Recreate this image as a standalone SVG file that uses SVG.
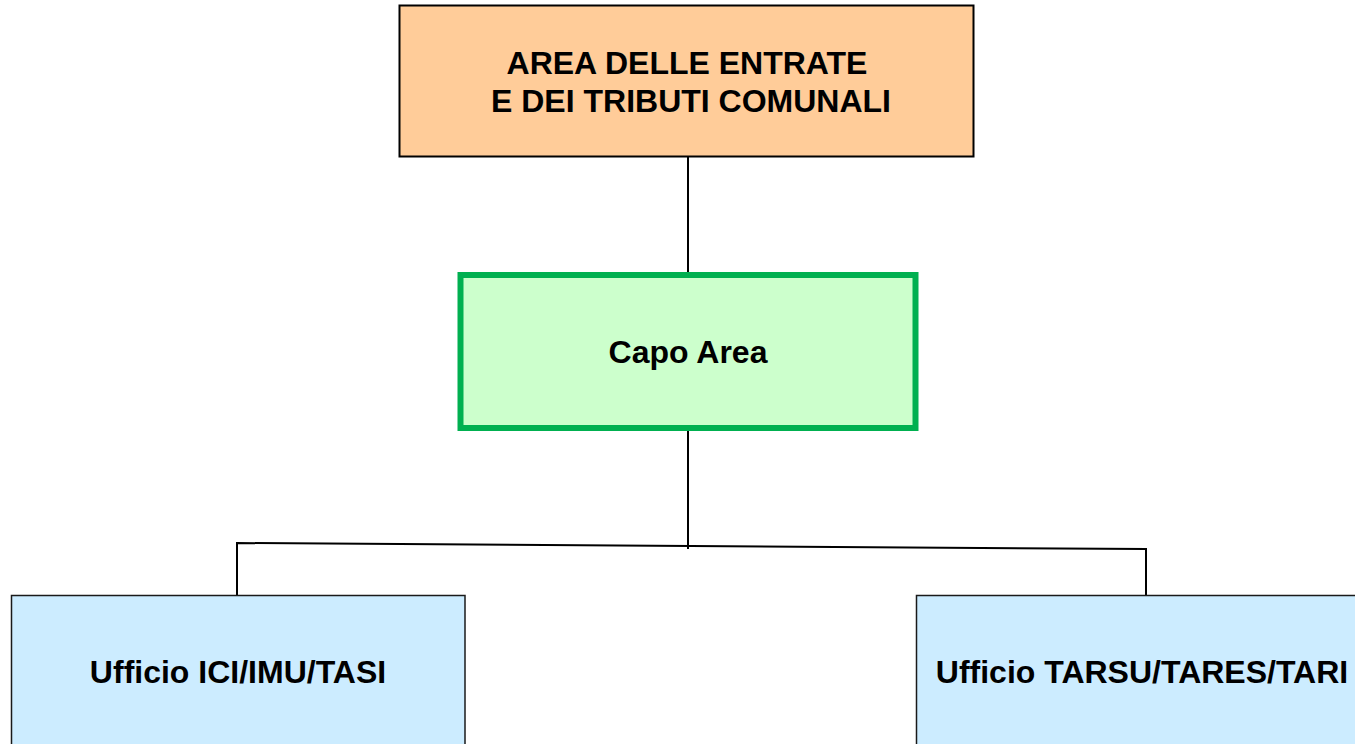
<svg xmlns="http://www.w3.org/2000/svg" width="1355" height="744" viewBox="0 0 1355 744">
<style>
text{font-family:"Liberation Sans",Arial,sans-serif;font-weight:bold;font-size:32px;fill:#000;text-anchor:middle}
.conn{stroke:#000;stroke-width:2;fill:none}
.office{fill:#CCECFF;stroke:#1a1a1a;stroke-width:1.5}
</style>
<rect width="1355" height="744" fill="#fff"/>
<g id="connectors">
<line class="conn" x1="688" y1="157" x2="688" y2="273"/>
<line class="conn" x1="688" y1="430" x2="688" y2="549"/>
<polyline class="conn" points="237,595 237,543 1146,549 1146,595"/>
</g>
<g id="area">
<rect x="399.5" y="5.5" width="574" height="151" fill="#FFCC99" stroke="#000" stroke-width="2"/>
<text x="687" y="74">AREA DELLE ENTRATE</text>
<text x="691" y="112">E DEI TRIBUTI COMUNALI</text>
</g>
<g id="capo">
<rect x="460.5" y="275" width="455" height="153" fill="#CCFFCC" stroke="#00B050" stroke-width="6"/>
<text x="688" y="363">Capo Area</text>
</g>
<g id="ufficio-ici">
<rect class="office" x="11.5" y="595.5" width="453.5" height="160"/>
<text x="238" y="683">Ufficio ICI/IMU/TASI</text>
</g>
<g id="ufficio-tarsu">
<rect class="office" x="916.5" y="595.5" width="460" height="160"/>
<text x="1142" y="683">Ufficio TARSU/TARES/TARI</text>
</g>
</svg>
